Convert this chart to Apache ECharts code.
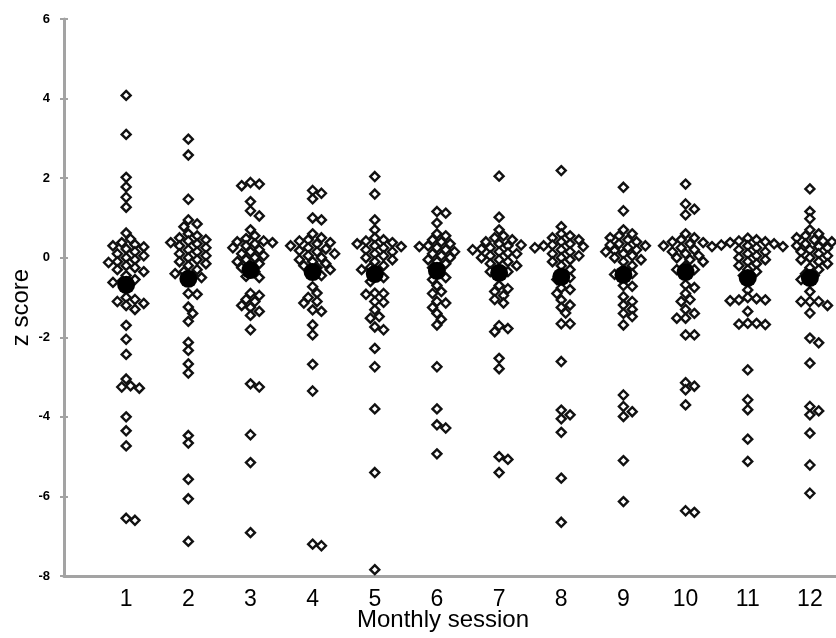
<!DOCTYPE html>
<html>
<head>
<meta charset="utf-8">
<script src="https://cdn.jsdelivr.net/npm/echarts@6/dist/echarts.min.js"></script>
<style>
html,body{margin:0;padding:0;background:#fff;}
#chart{width:836px;height:638px;}
</style>
</head>
<body>
<div id="chart"></div>
<script>
// ---- data ----
const sessions = [1,2,3,4,5,6,7,8,9,10,11,12];
const s1 = [4.08, 3.1, 2.02, 1.78, 1.52, 1.27, 0.62, 0.47, 0.38, 0.33, 0.30, 0.27, 0.22, 0.15, 0.10, 0.05, 0.0, -0.05, -0.1, -0.12, -0.2, -0.25, -0.3, -0.35, -0.45, -0.55, -0.6, -0.62, -0.8, -1.0, -1.05, -1.1, -1.15, -1.2, -1.3, -1.7, -2.05, -2.43, -3.05, -3.22, -3.25, -3.28, -4.0, -4.35, -4.73, -6.6, -6.55];
const s2 = [2.98, 2.58, 1.47, 0.95, 0.85, 0.78, 0.6, 0.55, 0.5, 0.45, 0.42, 0.38, 0.35, 0.3, 0.25, 0.2, 0.15, 0.1, 0.05, 0.0, -0.05, -0.1, -0.15, -0.2, -0.3, -0.35, -0.4, -0.45, -0.5, -0.9, -0.92, -1.24, -1.4, -1.6, -2.13, -2.33, -2.67, -2.9, -4.47, -4.66, -5.57, -6.06, -7.13];
const s3 = [1.89, 1.85, 1.81, 1.41, 1.18, 1.05, 0.7, 0.55, 0.48, 0.42, 0.4, 0.38, 0.35, 0.3, 0.25, 0.2, 0.15, 0.1, 0.05, 0.0, -0.05, -0.1, -0.15, -0.2, -0.25, -0.35, -0.47, -0.5, -0.9, -0.95, -1.05, -1.1, -1.2, -1.25, -1.35, -1.45, -1.81, -3.17, -3.25, -4.45, -5.15, -6.91];
const s4 = [1.69, 1.62, 1.48, 1.0, 0.95, 0.6, 0.5, 0.45, 0.42, 0.38, 0.35, 0.3, 0.25, 0.22, 0.18, 0.15, 0.1, 0.05, 0.0, -0.05, -0.1, -0.15, -0.2, -0.25, -0.3, -0.42, -0.45, -0.73, -0.89, -1.0, -1.1, -1.14, -1.31, -1.35, -1.69, -1.94, -2.68, -3.35, -7.2, -7.24];
const s5 = [2.04, 1.6, 0.95, 0.7, 0.5, 0.45, 0.42, 0.38, 0.35, 0.3, 0.28, 0.25, 0.2, 0.15, 0.1, 0.05, 0.0, -0.05, -0.1, -0.2, -0.25, -0.3, -0.45, -0.5, -0.6, -0.89, -0.9, -0.92, -1.1, -1.12, -1.31, -1.48, -1.52, -1.74, -1.81, -2.28, -2.74, -3.8, -5.4, -7.84];
const s6 = [1.16, 1.12, 0.87, 0.6, 0.55, 0.45, 0.4, 0.35, 0.3, 0.28, 0.25, 0.2, 0.15, 0.1, 0.05, 0.0, -0.05, -0.1, -0.15, -0.25, -0.4, -0.5, -0.55, -0.7, -0.85, -0.9, -1.1, -1.14, -1.25, -1.4, -1.55, -1.69, -2.74, -3.8, -4.2, -4.28, -4.93];
const s7 = [2.05, 1.02, 0.7, 0.55, 0.5, 0.45, 0.4, 0.35, 0.32, 0.3, 0.25, 0.22, 0.2, 0.15, 0.12, 0.1, 0.05, 0.0, -0.05, -0.1, -0.15, -0.2, -0.3, -0.35, -0.35, -0.7, -0.78, -0.85, -0.95, -1.05, -1.14, -1.71, -1.78, -1.86, -2.53, -2.79, -5.0, -5.07, -5.4];
const s8 = [2.19, 0.78, 0.6, 0.55, 0.5, 0.45, 0.4, 0.35, 0.32, 0.3, 0.28, 0.25, 0.2, 0.15, 0.1, 0.05, 0.0, -0.05, -0.1, -0.2, -0.3, -0.4, -0.5, -0.55, -0.76, -0.8, -0.9, -1.06, -1.19, -1.25, -1.39, -1.66, -1.66, -2.61, -3.83, -3.95, -4.05, -4.39, -5.54, -6.65];
const s9 = [1.77, 1.18, 0.7, 0.6, 0.55, 0.5, 0.45, 0.4, 0.35, 0.32, 0.3, 0.25, 0.2, 0.18, 0.15, 0.1, 0.05, 0.0, -0.05, -0.1, -0.2, -0.3, -0.4, -0.42, -0.7, -0.72, -0.98, -1.1, -1.19, -1.3, -1.4, -1.48, -1.69, -3.45, -3.74, -3.87, -3.99, -5.1, -6.13];
const s10 = [1.85, 1.35, 1.22, 1.08, 0.6, 0.5, 0.45, 0.4, 0.38, 0.35, 0.3, 0.28, 0.25, 0.2, 0.15, 0.1, 0.05, 0.0, -0.05, -0.1, -0.2, -0.3, -0.3, -0.68, -0.75, -0.9, -1.05, -1.1, -1.3, -1.4, -1.52, -1.52, -1.94, -1.94, -3.14, -3.23, -3.32, -3.7, -6.36, -6.4];
const s11 = [0.49, 0.45, 0.42, 0.4, 0.38, 0.35, 0.32, 0.3, 0.28, 0.25, 0.2, 0.15, 0.1, 0.05, 0.0, -0.05, -0.1, -0.15, -0.2, -0.3, -0.35, -0.45, -0.81, -1.0, -1.03, -1.06, -1.06, -1.08, -1.35, -1.65, -1.65, -1.67, -1.68, -2.82, -3.57, -3.82, -4.56, -5.12];
const s12 = [1.73, 1.16, 0.98, 0.7, 0.6, 0.55, 0.5, 0.45, 0.42, 0.4, 0.35, 0.3, 0.28, 0.25, 0.2, 0.15, 0.1, 0.05, 0.0, -0.05, -0.1, -0.15, -0.25, -0.3, -0.4, -0.45, -0.55, -0.85, -1.1, -1.1, -1.1, -1.2, -1.39, -2.02, -2.14, -2.65, -3.74, -3.85, -3.95, -4.41, -5.21, -5.92];
const means = [-0.68, -0.53, -0.31, -0.36, -0.41, -0.33, -0.38, -0.48, -0.43, -0.36, -0.51, -0.51];
const yTicks = [-8, -6, -4, -2, 0, 2, 4, 6];
const allSessions = [s1, s2, s3, s4, s5, s6, s7, s8, s9, s10, s11, s12];

// ---- layout ----
const GRID = {left: 64, top: 19, width: 772, height: 557};
const Y_MIN = -8, Y_MAX = 6, X_MIN = 0, X_MAX = 12.42;
const PX_Y = GRID.height / (Y_MAX - Y_MIN);
const PX_X = GRID.width / (X_MAX - X_MIN);

// beeswarm layout (horizontal spread so markers do not overlap much)
function swarm(values, center) {
  const D = 6.8, step = 4.4;
  const placed = [];
  const out = [];
  const sorted = values.slice().sort((a, b) => b - a);
  for (const v of sorted) {
    const py = v * PX_Y;
    let off = 0;
    for (let k = 0; k < 40; k++) {
      const cand = k === 0 ? 0 : (k % 2 ? 1 : -1) * Math.ceil(k / 2) * step;
      let ok = true;
      for (const p of placed) {
        const dx = cand - p.x, dy = py - p.y;
        if (dx * dx + dy * dy < D * D) { ok = false; break; }
      }
      if (ok) { off = cand; break; }
    }
    placed.push({x: off, y: py});
    out.push([center + off / PX_X, v]);
  }
  return out;
}

const points = [];
allSessions.forEach((vals, i) => { swarm(vals, sessions[i]).forEach(p => points.push(p)); });
const meanPts = sessions.map((s, i) => [s, means[i]]);

const chart = echarts.init(document.getElementById('chart'), null, {renderer: 'canvas'});
const axisGray = '#a3a3a3';
const FONT = 'Liberation Sans, Arial, sans-serif';
chart.setOption({
  animation: false,
  backgroundColor: '#ffffff',
  grid: {left: GRID.left, top: GRID.top, width: GRID.width, height: GRID.height, containLabel: false, outerBoundsMode: 'none'},
  xAxis: {
    type: 'value', min: X_MIN, max: X_MAX, interval: 1,
    name: 'Monthly session', nameLocation: 'middle', nameGap: 32, nameMoveOverlap: false,
    nameTextStyle: {fontFamily: FONT, fontSize: 24, color: '#000', padding: [0, 14, 0, 0]},
    axisLine: {show: true, onZero: false, lineStyle: {color: axisGray, width: 3}},
    axisTick: {show: false},
    splitLine: {show: false},
    axisLabel: {
      showMaxLabel: false, margin: 12,
      fontFamily: FONT, fontSize: 23, color: '#000',
      formatter: v => (sessions.indexOf(v) >= 0 ? String(v) : '')
    }
  },
  yAxis: [{
    type: 'value', min: Y_MIN, max: Y_MAX, interval: 2,
    name: 'z score', nameLocation: 'middle', nameGap: 31, nameRotate: 90, nameMoveOverlap: false,
    nameTextStyle: {fontFamily: FONT, fontSize: 24, color: '#000', padding: [0, 20, 0, 0]},
    axisLine: {show: true, lineStyle: {color: axisGray, width: 3}},
    axisTick: {show: true, length: 4, lineStyle: {color: axisGray, width: 2}},
    splitLine: {show: false},
    axisLabel: {
      margin: 14, fontFamily: FONT, fontSize: 13, fontWeight: 'bold', color: '#000',
      formatter: v => (yTicks.indexOf(v) >= 0 ? String(v) : '')
    }
  }, {
    type: 'value', min: Y_MIN, max: Y_MAX, interval: 2, position: 'left',
    axisLine: {show: false},
    axisTick: {show: true, inside: true, length: 4, lineStyle: {color: axisGray, width: 2}},
    axisLabel: {show: false},
    splitLine: {show: false}
  }],
  series: [{
    type: 'scatter',
    data: points,
    symbol: 'diamond',
    symbolSize: [9, 9],
    itemStyle: {color: '#ffffff', borderColor: '#111111', borderWidth: 2.4, opacity: 1},
    z: 2
  }, {
    type: 'scatter',
    data: meanPts,
    symbol: 'circle',
    symbolSize: 18,
    itemStyle: {color: '#000000', opacity: 1},
    z: 3
  }]
});
</script>
</body>
</html>
